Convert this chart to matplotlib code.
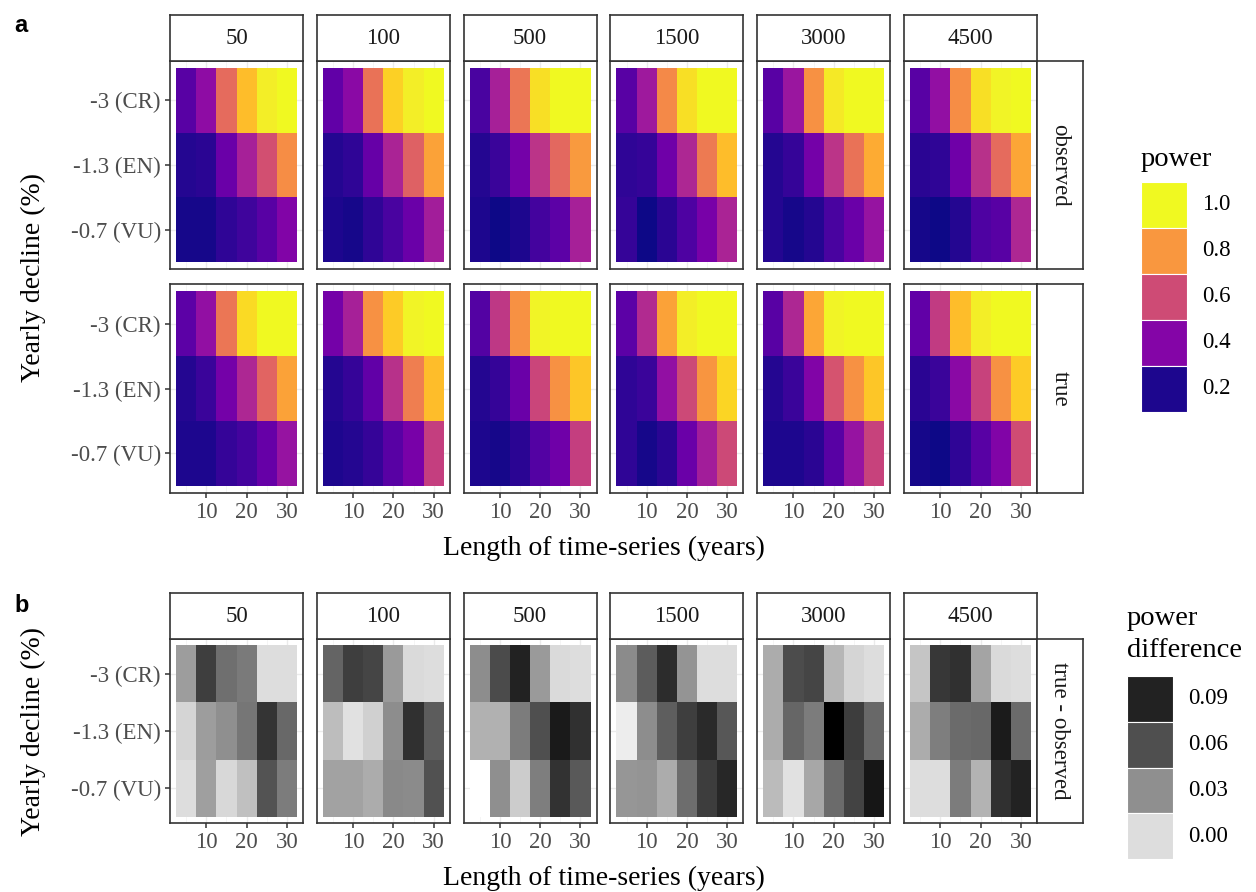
import numpy as np
import matplotlib
matplotlib.use("Agg")
import matplotlib.pyplot as plt
from matplotlib.colors import Normalize, LinearSegmentedColormap

# facets / axes
sizes = ["50", "100", "500", "1500", "3000", "4500"]
years = [5, 10, 15, 20, 25, 30]
declines = ["-3 (CR)", "-1.3 (EN)", "-0.7 (VU)"]   # top -> bottom
row_labels = ["observed", "true"]

# power, rows = CR, EN, VU ; columns = years
obs_50 = [[0.28, 0.40, 0.68, 0.88, 0.98, 1.00],
          [0.18, 0.19, 0.32, 0.46, 0.60, 0.77],
          [0.16, 0.16, 0.20, 0.23, 0.28, 0.37]]
obs_100 = [[0.30, 0.39, 0.70, 0.92, 0.98, 1.00],
           [0.18, 0.20, 0.31, 0.47, 0.65, 0.82],
           [0.17, 0.16, 0.20, 0.25, 0.32, 0.45]]
obs_500 = [[0.25, 0.46, 0.71, 0.95, 1.00, 1.00],
           [0.18, 0.22, 0.34, 0.52, 0.67, 0.80],
           [0.17, 0.15, 0.17, 0.24, 0.29, 0.46]]
obs_1500 = [[0.28, 0.44, 0.76, 0.95, 1.00, 1.00],
            [0.20, 0.21, 0.33, 0.48, 0.72, 0.88],
            [0.21, 0.15, 0.19, 0.26, 0.35, 0.47]]
obs_3000 = [[0.28, 0.43, 0.78, 0.97, 1.00, 1.00],
            [0.18, 0.21, 0.34, 0.52, 0.70, 0.84],
            [0.18, 0.16, 0.18, 0.25, 0.32, 0.42]]
obs_4500 = [[0.28, 0.41, 0.77, 0.95, 0.99, 1.00],
            [0.19, 0.20, 0.33, 0.51, 0.68, 0.83],
            [0.16, 0.15, 0.18, 0.26, 0.28, 0.48]]

true_50 = [[0.29, 0.41, 0.71, 0.94, 1.00, 1.00],
           [0.18, 0.22, 0.34, 0.48, 0.66, 0.82],
           [0.17, 0.17, 0.21, 0.24, 0.31, 0.42]]
true_100 = [[0.34, 0.46, 0.78, 0.91, 0.99, 1.00],
            [0.18, 0.21, 0.30, 0.51, 0.73, 0.88],
            [0.17, 0.18, 0.21, 0.28, 0.35, 0.55]]
true_500 = [[0.27, 0.53, 0.78, 0.99, 1.00, 1.00],
            [0.18, 0.21, 0.32, 0.57, 0.78, 0.90],
            [0.17, 0.16, 0.19, 0.27, 0.33, 0.55]]
true_1500 = [[0.29, 0.49, 0.82, 0.98, 1.00, 1.00],
             [0.20, 0.22, 0.41, 0.58, 0.79, 0.93],
             [0.20, 0.16, 0.19, 0.32, 0.45, 0.58]]
true_3000 = [[0.28, 0.48, 0.83, 0.99, 1.00, 1.00],
             [0.18, 0.22, 0.37, 0.61, 0.78, 0.90],
             [0.17, 0.17, 0.19, 0.28, 0.42, 0.56]]
true_4500 = [[0.30, 0.54, 0.88, 0.98, 1.00, 1.00],
             [0.19, 0.22, 0.39, 0.56, 0.78, 0.91],
             [0.16, 0.15, 0.20, 0.28, 0.37, 0.59]]

# power difference (true - observed)
diff_50 = [[0.025, 0.071, 0.045, 0.040, 0.000, 0.000],
           [0.003, 0.025, 0.030, 0.042, 0.078, 0.048],
           [0.000, 0.024, 0.002, 0.011, 0.058, 0.039]]
diff_100 = [[0.050, 0.071, 0.067, 0.026, 0.001, 0.000],
            [0.012, -0.002, 0.005, 0.031, 0.081, 0.054],
            [0.023, 0.023, 0.019, 0.033, 0.032, 0.059]]
diff_500 = [[0.031, 0.063, 0.090, 0.026, 0.001, 0.000],
            [0.017, 0.017, 0.039, 0.060, 0.095, 0.081],
            [-0.015, 0.030, 0.006, 0.038, 0.080, 0.055]]
diff_1500 = [[0.032, 0.054, 0.084, 0.028, 0.000, 0.000],
             [-0.007, 0.031, 0.053, 0.071, 0.085, 0.056],
             [0.027, 0.028, 0.019, 0.046, 0.072, 0.087]]
diff_3000 = [[0.019, 0.062, 0.067, 0.015, 0.003, 0.000],
             [0.019, 0.049, 0.039, 0.110, 0.072, 0.048],
             [0.013, -0.002, 0.021, 0.047, 0.068, 0.097]]
diff_4500 = [[0.009, 0.076, 0.081, 0.022, 0.001, 0.000],
             [0.019, 0.038, 0.047, 0.048, 0.094, 0.047],
             [0.000, 0.000, 0.039, 0.016, 0.081, 0.090]]

observed = [obs_50, obs_100, obs_500, obs_1500, obs_3000, obs_4500]
true_p = [true_50, true_100, true_500, true_1500, true_3000, true_4500]
diffs = [diff_50, diff_100, diff_500, diff_1500, diff_3000, diff_4500]

power_breaks = [1.0, 0.8, 0.6, 0.4, 0.2]
diff_breaks = [0.09, 0.06, 0.03, 0.00]

plt.rcParams['font.family'] = ['Liberation Serif', 'DejaVu Serif']

W, H = 1256, 892
fig = plt.figure(figsize=(W / 100, H / 100), dpi=100)


def rect(x0, y0, x1, y1):
    return [x0 / W, 1 - y1 / H, (x1 - x0) / W, (y1 - y0) / H]


pow_cmap = plt.get_cmap('plasma')
pow_norm = Normalize(0.15, 1.0)
leg_norm = Normalize(0.18, 1.0)   # legend steps sit slightly darker
grey_cmap = LinearSegmentedColormap.from_list(
    'greys', [(0.0, '#ffffff'), (0.12, '#dcdcdc'), (0.36, '#8f8f8f'),
              (0.60, '#4f4f4f'), (0.84, '#232323'), (1.0, '#000000')])
grey_norm = Normalize(-0.015, 0.11)

x_edges = np.r_[np.array(years) - 2.5, years[-1] + 2.5]
y_edges = np.arange(len(declines) + 1) - 0.5

EDGE = '#333333'
TXT = '#4d4d4d'
col_x = [170 + i * 146.8 for i in range(6)]
PW = 133


def panel(x0, y0, y1, vals, cmap, norm, left, bottom):
    ax = fig.add_axes(rect(x0, y0, x0 + PW, y1))
    ax.pcolormesh(x_edges, y_edges, np.array(vals)[::-1], cmap=cmap, norm=norm,
                  edgecolors='face', linewidth=0, zorder=2)
    ax.set_xlim(1.0, 34.0)
    ax.set_ylim(-0.61, 2.61)
    ax.set_xticks([10, 20, 30])
    ax.set_xticks([5, 15, 25], minor=True)
    ax.set_yticks([0, 1, 2])
    ax.set_axisbelow(True)
    ax.grid(which='major', color='#ebebeb', lw=1.0)
    ax.grid(which='minor', axis='x', color='#f4f4f4', lw=0.6)
    ax.tick_params(which='minor', length=0)
    ax.tick_params(which='major', color=EDGE, width=1.1, length=3.6,
                   labelsize=16.5, labelcolor=TXT, pad=3)
    if left:
        ax.set_yticklabels(declines[::-1])
    else:
        ax.tick_params(axis='y', length=0, labelleft=False)
    if bottom:
        ax.set_xticklabels([str(v) for v in [10, 20, 30]])
    else:
        ax.tick_params(axis='x', length=0, labelbottom=False)
    for s in ax.spines.values():
        s.set_color(EDGE)
        s.set_linewidth(1.2)
    return ax


def strip(x0, y0, x1, y1, label, rot=0):
    ax = fig.add_axes(rect(x0, y0, x1, y1))
    ax.set_xticks([])
    ax.set_yticks([])
    for s in ax.spines.values():
        s.set_color(EDGE)
        s.set_linewidth(1.2)
    ax.text(0.5, 0.5, label, rotation=rot, ha='center', va='center',
            fontsize=16.5, color='#1a1a1a', transform=ax.transAxes)


def legend(x0, y0, x1, y1, breaks, cmap, norm, fmt):
    ax = fig.add_axes(rect(x0, y0, x1, y1))
    n = len(breaks)
    for i, b in enumerate(breaks):
        ax.bar(0, 1, bottom=n - 1 - i, width=1, color=cmap(norm(b)),
               edgecolor='white', linewidth=0.8)
        ax.text(0.83, n - 1 - i + 0.5, fmt.format(b), ha='left', va='center',
                fontsize=16.5, color='black')
    ax.set_xlim(-0.5, 0.5)
    ax.set_ylim(0, n)
    ax.axis('off')


# ---- panel a ----
fig.text(14 / W, 1 - 32 / H, 'a', fontsize=17, fontweight='bold',
         family='Liberation Sans')
rows_a = [(61, 269), (284, 493)]
for r, (data, lab) in enumerate(zip([observed, true_p], row_labels)):
    y0, y1 = rows_a[r]
    for c in range(6):
        panel(col_x[c], y0, y1, data[c], pow_cmap, pow_norm, c == 0, r == 1)
    strip(1037, y0, 1083, y1, lab, rot=-90)
for c in range(6):
    strip(col_x[c], 15, col_x[c] + PW, 61, sizes[c])
fig.text(604 / W, 1 - 548 / H, 'Length of time-series (years)', ha='center',
         va='center', fontsize=20)
fig.text(33 / W, 1 - 277 / H, 'Yearly decline (%)', ha='center', va='center',
         rotation=90, fontsize=20)
fig.text(1141 / W, 1 - 166 / H, 'power', ha='left', va='baseline', fontsize=20.5)
legend(1141, 182, 1187, 412, power_breaks, pow_cmap, leg_norm, '{:.1f}')

# ---- panel b ----
fig.text(14 / W, 1 - 612 / H, 'b', fontsize=17, fontweight='bold',
         family='Liberation Sans')
for c in range(6):
    panel(col_x[c], 639, 823, diffs[c], grey_cmap, grey_norm, c == 0, True)
    strip(col_x[c], 593, col_x[c] + PW, 639, sizes[c])
strip(1037, 639, 1083, 823, 'true - observed', rot=-90)
fig.text(604 / W, 1 - 878 / H, 'Length of time-series (years)', ha='center',
         va='center', fontsize=20)
fig.text(33 / W, 1 - 731 / H, 'Yearly decline (%)', ha='center', va='center',
         rotation=90, fontsize=20)
fig.text(1127 / W, 1 - 625 / H, 'power', ha='left', va='baseline', fontsize=20.5)
fig.text(1127 / W, 1 - 657 / H, 'difference', ha='left', va='baseline',
         fontsize=20.5)
legend(1127, 676, 1173, 859, diff_breaks, grey_cmap, grey_norm, '{:.2f}')

fig.savefig('out.png', dpi=100, facecolor='white')
